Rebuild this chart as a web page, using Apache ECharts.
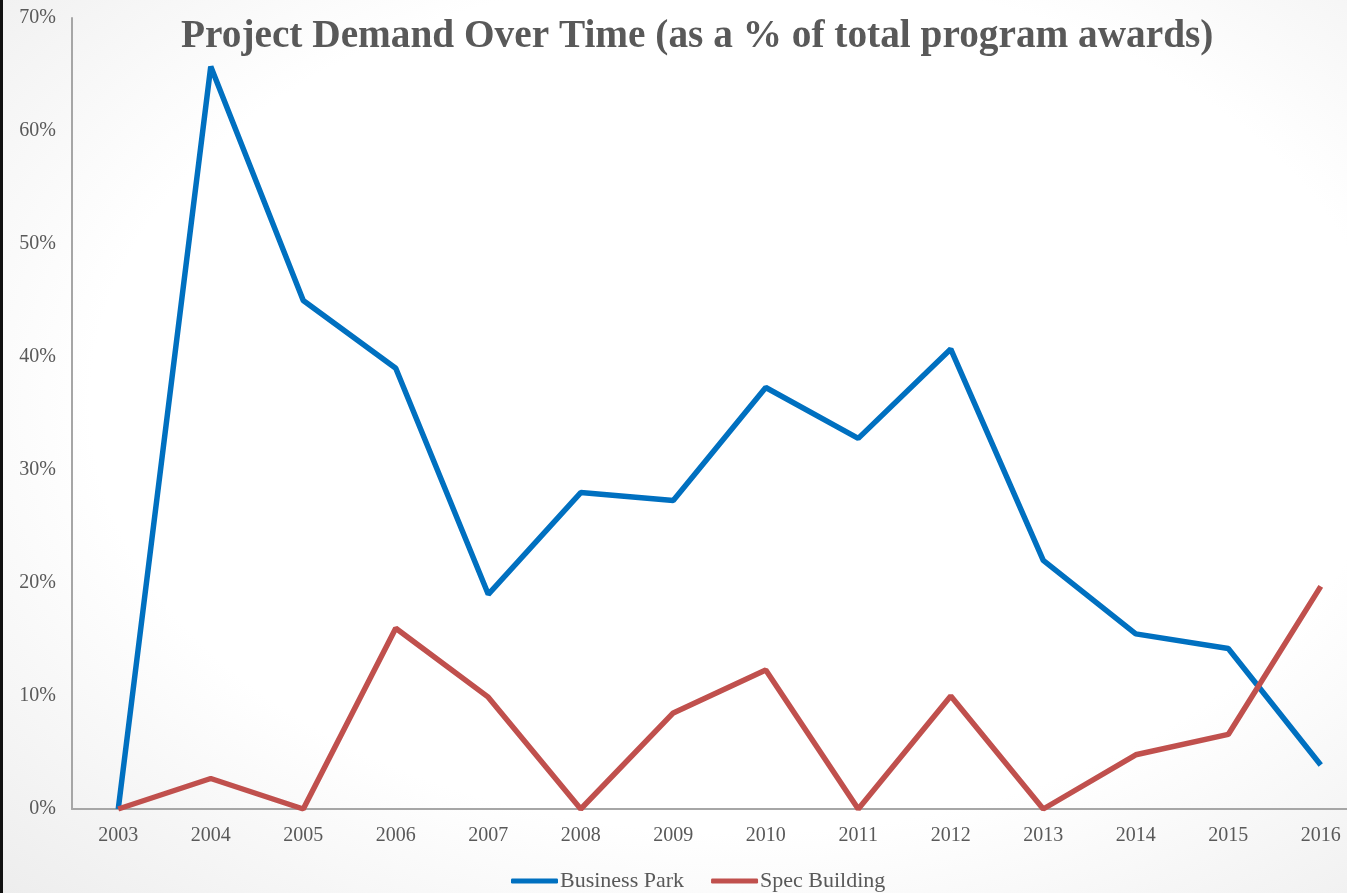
<!DOCTYPE html>
<html>
<head>
<meta charset="utf-8">
<script src="https://cdn.jsdelivr.net/npm/echarts@6/dist/echarts.min.js"></script>
<style>
html,body{margin:0;padding:0;width:1347px;height:893px;overflow:hidden;}
body{background:radial-gradient(ellipse at 55% 45%, #ffffff 62%, #ededed 100%);position:relative;}
#frame{position:absolute;left:0;top:0;width:3px;height:893px;background:#111;z-index:2;}
#chart{position:absolute;left:0;top:0;width:1367px;height:893px;}
</style>
</head>
<body>
<div id="frame"></div>
<div id="chart"></div>
<script>
const years = ['2003','2004','2005','2006','2007','2008','2009','2010','2011','2012','2013','2014','2015','2016'];
const businessPark = [0, 65.7, 45.0, 39.0, 19.0, 28.0, 27.3, 37.3, 32.8, 40.7, 22.0, 15.5, 14.2, 3.9];
const specBuilding = [0, 2.7, 0, 16.0, 9.9, 0, 8.5, 12.3, 0, 10.0, 0, 4.8, 6.6, 19.7];
const titleText = 'Project Demand Over Time (as a % of total program awards)';

const chart = echarts.init(document.getElementById('chart'), null, {renderer:'canvas'});
const serif = '"Liberation Serif", "Times New Roman", serif';
const gray = '#595959';
chart.setOption({
  backgroundColor: 'transparent',
  animation: false,
  title: {
    text: titleText,
    left: 176,
    top: 12,
    textStyle: {fontFamily: serif, fontWeight: 'bold', fontSize: 39.3, color: gray}
  },
  legend: {
    bottom: -4,
    left: 506,
    itemGap: 27,
    itemWidth: 47,
    itemHeight: 5,
    icon: 'roundRect',
    textStyle: {fontFamily: serif, fontSize: 22, color: gray, padding: [0, 0, 0, -3]},
    data: ['Business Park', 'Spec Building']
  },
  grid: {left: 72, right: 0, top: 18, bottom: 84, containLabel: false},
  xAxis: {
    type: 'category',
    data: years,
    boundaryGap: true,
    axisLine: {lineStyle: {color: '#a6a6a6', width: 2}},
    axisTick: {show: false},
    axisLabel: {fontFamily: serif, fontSize: 20, color: gray, margin: 17}
  },
  yAxis: {
    type: 'value',
    min: 0, max: 70, interval: 10,
    axisLine: {show: true, lineStyle: {color: '#a6a6a6', width: 2}},
    axisTick: {show: false},
    splitLine: {show: false},
    axisLabel: {fontFamily: serif, fontSize: 20, color: gray, margin: 16, formatter: '{value}%'}
  },
  series: [
    {name: 'Business Park', type: 'line', data: businessPark, showSymbol: false, symbol: 'none',
     color: '#0070C0', lineStyle: {width: 5.5, color: '#0070C0'}},
    {name: 'Spec Building', type: 'line', data: specBuilding, showSymbol: false, symbol: 'none',
     color: '#C0504D', lineStyle: {width: 5.5, color: '#C0504D'}}
  ]
});
</script>
</body>
</html>
